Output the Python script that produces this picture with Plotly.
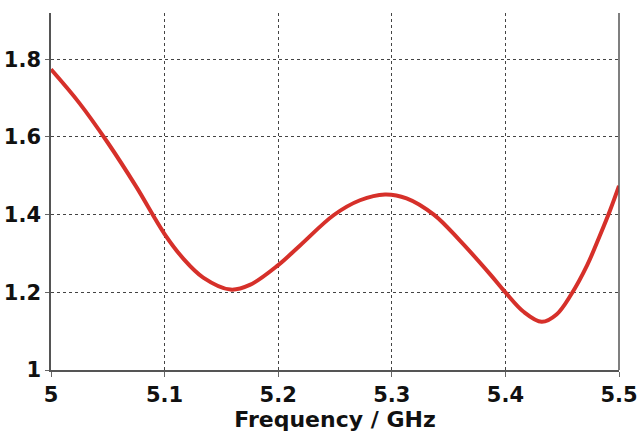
import plotly.graph_objects as go

freq = [5.0, 5.025, 5.05, 5.075, 5.1, 5.117, 5.134, 5.158, 5.175, 5.2, 5.219, 5.249, 5.272,
        5.294, 5.313, 5.337, 5.36, 5.387, 5.4, 5.416, 5.432, 5.445, 5.458, 5.472, 5.483, 5.492, 5.5]
vswr = [1.774, 1.687, 1.585, 1.472, 1.35, 1.285, 1.238, 1.207, 1.219, 1.27, 1.32, 1.399, 1.437,
        1.452, 1.442, 1.40, 1.333, 1.245, 1.2, 1.15, 1.124, 1.143, 1.195, 1.27, 1.345, 1.41, 1.474]

x_ticks = [5, 5.1, 5.2, 5.3, 5.4, 5.5]
x_labels = ["5", "5.1", "5.2", "5.3", "5.4", "5.5"]
y_ticks = [1, 1.2, 1.4, 1.6, 1.8]
y_labels = ["1", "1.2", "1.4", "1.6", "1.8"]

fig = go.Figure()
fig.add_trace(go.Scatter(x=freq, y=vswr, mode="lines",
                         line=dict(color="#d6302a", width=4, shape="spline", smoothing=1.0),
                         showlegend=False))

font_fam = "DejaVu Sans, Verdana, sans-serif"
fig.update_layout(
    width=639, height=441,
    margin=dict(l=51, r=20, t=13, b=71),
    paper_bgcolor="white", plot_bgcolor="white",
    font=dict(family=font_fam, color="#111111"),
)
fig.update_xaxes(
    range=[5.0, 5.5], tickvals=x_ticks, ticktext=x_labels,
    tickfont=dict(size=21, family=font_fam, weight="bold"),
    showgrid=True, gridcolor="#444444", griddash="dot", gridwidth=1,
    showline=True, linecolor="#555555", linewidth=1.5,
    ticks="outside", ticklen=5, tickcolor="#666666",
    zeroline=False, automargin=False,
    title=dict(text="<b>Frequency / GHz</b>", font=dict(size=22, family=font_fam), standoff=4),
)
fig.update_yaxes(
    range=[1.0, 1.919], tickvals=y_ticks, ticktext=y_labels,
    tickfont=dict(size=21, family=font_fam, weight="bold"),
    showgrid=True, gridcolor="#444444", griddash="dot", gridwidth=1,
    showline=True, linecolor="#555555", linewidth=1.5,
    ticks="outside", ticklen=4, tickcolor="#666666",
    zeroline=False, automargin=False,
)
fig.add_shape(type="line", xref="paper", yref="paper", x0=1, x1=1, y0=0, y1=1,
              line=dict(color="#555555", width=1.5))

fig.write_html("out.html", config={"displayModeBar": False},
               post_script="document.body.style.margin='0';")
